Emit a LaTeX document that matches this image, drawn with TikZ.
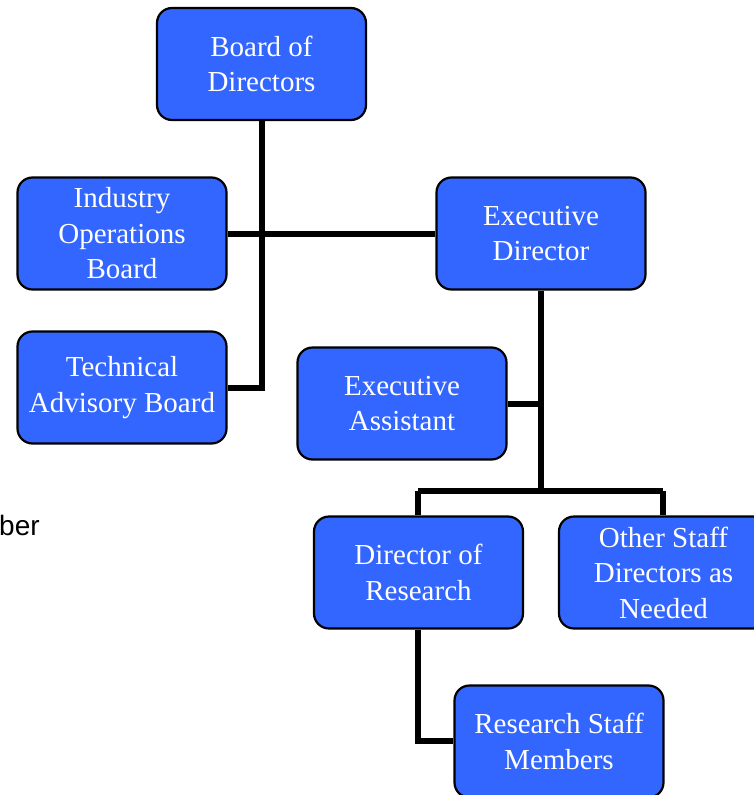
\documentclass[tikz,border=0pt]{standalone}
\usepackage{fontspec}
\setmainfont{Liberation Serif}
\newfontfamily\arialfont{Liberation Sans}
\definecolor{boxblue}{HTML}{3366FF}
\tikzset{
  orgbox/.style={draw=black, line width=2.2pt, fill=boxblue, rounded corners=15pt,
    minimum width=209pt, minimum height=112pt, align=center, text=white, inner sep=0pt,
    font=\fontsize{29}{35.5}\selectfont},
  link/.style={line width=5.5pt, line join=miter}
}
\begin{document}
\begin{tikzpicture}[x=1pt,y=-1pt]
\useasboundingbox (0,0) rectangle (754,795);
\fill[white] (0,0) rectangle (754,795);
\clip (0,0) rectangle (754,795);
% connector corners
\coordinate (c1) at (262,388);
\coordinate (c2) at (541,491);
\coordinate (c3) at (418,491);
\coordinate (c4) at (663,491);
\coordinate (c5) at (418,741);
\coordinate (c6) at (541,404);
% nodes
\node[orgbox] (bod) at (261.5,64) {Board of\\Directors};
\node[orgbox] (iob) at (122,233.5) {Industry\\Operations\\Board};
\node[orgbox] (tab) at (122,387.5) {Technical\\Advisory Board};
\node[orgbox] (ed) at (541,233.5) {Executive\\Director};
\node[orgbox] (ea) at (402,403.5) {Executive\\Assistant};
\node[orgbox] (dor) at (418.5,572.5) {Director of\\Research};
\node[orgbox] (osd) at (663.5,572.5) {Other Staff\\Directors as\\Needed};
\node[orgbox] (rsm) at (559,741.5) {Research Staff\\Members};
% connectors
\draw[link] (bod.south -| c1) -- (c1) -- (tab.east |- c1);
\draw[link] (iob.east |- 0,234) -- (ed.west |- 0,234);
\draw[link] (ed.south -| c2) -- (c2);
\draw[link] (ea.east |- c6) -- (c6);
\draw[link] (c3) -- (c4);
\draw[link] (c3) -- (dor.north -| c3);
\draw[link] (c4) -- (osd.north -| c4);
\draw[link] (dor.south -| c5) -- (c5) -- (rsm.west |- c5);
\node[anchor=base west, inner sep=0pt, font=\arialfont\fontsize{28}{34}\selectfont] (ber) at (-1,535) {ber};
\end{tikzpicture}
\end{document}
